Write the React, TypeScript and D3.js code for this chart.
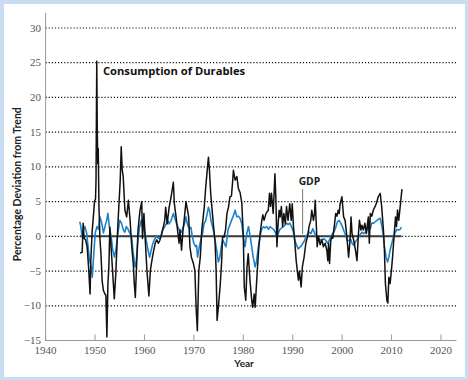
import React from "react";
import * as d3 from "d3";

// [year, percentage deviation from trend]
const durables: [number, number][] = [
  [1947.0, -2.4], [1947.4, -2.3], [1947.6, 1.9], [1947.8, -0.3], [1948.1, -0.5], [1948.4, -1.5],
  [1948.7, -4.5], [1949.0, -8.3], [1949.15, -3.5], [1949.4, 0.5], [1949.6, 2.3], [1949.9, 5.0],
  [1950.1, 5.4], [1950.2, 8], [1950.35, 25.2], [1950.45, 15.8], [1950.55, 10.5], [1950.65, 12.7],
  [1950.8, 4.2], [1951.0, -0.5], [1951.2, -2.5], [1951.45, -6.5], [1951.7, -7.8], [1952.0, -8.3],
  [1952.2, -8.5], [1952.4, -14.5], [1952.6, -7], [1952.8, -4.4], [1953.0, 1.3], [1953.2, -1],
  [1953.5, -4.4], [1953.9, -9.0], [1954.2, -5.4], [1954.6, 1.3], [1955.1, 8.1], [1955.3, 12.9],
  [1955.5, 9.6], [1955.7, 8.6], [1956.05, 3.75], [1956.4, 2.8], [1956.75, 5.2], [1957.1, 2.3],
  [1957.4, -1.2], [1957.75, -4], [1957.9, -6.3], [1958.15, -8.8], [1958.4, -4.4], [1958.7, 0.9],
  [1959.1, 3.75], [1959.45, 5.0], [1959.6, -0.3], [1959.9, 3.3], [1960.2, -1], [1960.5, -4.9],
  [1960.9, -8.6], [1961.2, -4.9], [1961.5, -3.5], [1961.8, -2.3], [1962.2, -0.9], [1962.5, -0.5],
  [1962.8, -1], [1963.1, -0.6], [1963.4, 0.2], [1963.8, 1.3], [1964.1, 2.3], [1964.3, 4.2],
  [1964.6, 1.8], [1965.0, 4.2], [1965.4, 5.7], [1965.85, 7.8], [1966.05, 4.7], [1966.4, 2.8],
  [1966.7, 0.9], [1967.0, -1], [1967.2, 0.9], [1967.5, -2], [1967.8, 0.9], [1968.1, 2.8],
  [1968.4, 5.0], [1968.7, 3.8], [1968.95, 2.8], [1969.2, -1.5], [1969.5, -3], [1969.9, -3.9],
  [1970.2, -4.9], [1970.45, -10.2], [1970.7, -13.6], [1971.0, -4.9], [1971.3, -3], [1971.6, 0.9],
  [1972.1, 4.2], [1972.4, 7.1], [1972.7, 9.5], [1972.95, 11.4], [1973.15, 9.5], [1973.4, 6.2],
  [1973.75, 3.3], [1974.0, 1.3], [1974.3, -1], [1974.5, -4.9], [1974.7, -12.1], [1974.95, -10.2],
  [1975.3, -7.3], [1975.6, -3.9], [1975.8, -0.1], [1976.1, -0.1], [1976.4, 0.9], [1976.7, 3.3],
  [1977.0, 4.2], [1977.3, 5.7], [1977.6, 5.8], [1977.8, 7.5], [1978.0, 9.5], [1978.35, 8.1],
  [1978.7, 8.6], [1979.0, 6.9], [1979.35, 6.3], [1979.7, 4.8], [1980.0, 0], [1980.2, -7.3],
  [1980.5, -9.2], [1980.75, -4.4], [1981.0, -2.5], [1981.35, -6.3], [1981.7, -9.2], [1981.9, -10.2],
  [1982.2, -8.3], [1982.4, -10.2], [1982.75, -5.9], [1983.1, -2], [1983.4, 0.4], [1983.75, 2.3],
  [1983.95, 3.1], [1984.2, 2.3], [1984.4, 2.8], [1984.6, 3.3], [1985.05, 3.75], [1985.3, 6.2],
  [1985.5, 4.3], [1985.7, 6.2], [1986.05, 3.3], [1986.4, 9.0], [1986.6, 5.2], [1986.8, -1.5],
  [1987.0, 1.4], [1987.25, 3.75], [1987.45, 2.8], [1987.7, 4.3], [1987.95, 1.4], [1988.2, 3.3],
  [1988.5, 1.8], [1988.75, 4.3], [1989.05, 2.3], [1989.4, 4.7], [1989.7, 2.3], [1989.9, 4.7],
  [1990.15, 1.4], [1990.4, -0.6], [1990.7, -3.5], [1991.0, -5.4], [1991.15, -6.3], [1991.35, -5],
  [1991.7, -7.3], [1991.95, -4.4], [1992.3, -3], [1992.65, -1], [1993.0, 0], [1993.3, 1.4],
  [1993.65, 2.3], [1993.85, 3.75], [1994.2, 2.3], [1994.4, 3.3], [1994.55, 5.2], [1994.75, 2.0],
  [1994.95, -1.5], [1995.2, 0], [1995.55, -1.2], [1995.9, -0.5], [1996.2, -1.5], [1996.55, -1],
  [1996.9, -2], [1997.1, -3.5], [1997.25, -1], [1997.45, -3.9], [1997.7, -0.6], [1997.9, 0],
  [1998.1, -0.3], [1998.4, 1.4], [1998.7, 3.3], [1998.95, 2.9], [1999.2, 3.75], [1999.4, 3.3],
  [1999.6, 4.7], [1999.95, 5.7], [2000.3, 2.8], [2000.6, 2.3], [2000.95, 0], [2001.3, -3],
  [2001.6, -0.5], [2001.8, 2.8], [2002.0, 0.4], [2002.35, -0.6], [2002.7, -2], [2003.0, -3.5],
  [2003.3, 0.4], [2003.5, 2.3], [2003.8, 0.9], [2004.0, 1.6], [2004.3, 0.9], [2004.6, 1.9],
  [2004.9, 0.4], [2005.3, 2.8], [2005.5, -1], [2005.7, 3.3], [2006.0, 2.9], [2006.3, 3.75],
  [2006.6, 4.2], [2006.95, 4.8], [2007.3, 5.7], [2007.7, 6.2], [2008.0, 4.3], [2008.35, 0.9],
  [2008.55, -1.9], [2008.75, -6.8], [2009.05, -9.2], [2009.25, -9.6], [2009.45, -5.9], [2009.7, -6.8],
  [2009.95, -5], [2010.2, -3], [2010.5, 0], [2010.8, 2.8], [2011.0, 1.4], [2011.2, 3.8],
  [2011.45, 2.3], [2011.7, 4], [2012.1, 6.8],
];

const gdp: [number, number][] = [
  [1946.9, 2.1], [1947.15, 1.4], [1947.35, 0], [1947.6, 0.8], [1947.95, 1.4], [1948.3, 0.5],
  [1948.6, -1.5], [1948.9, -3.5], [1949.25, -4.4], [1949.45, -5.9], [1949.75, -2.5], [1950.05, 0.5],
  [1950.4, 1.4], [1950.7, 1.0], [1951.0, 2.8], [1951.35, 1.9], [1951.7, 0.5], [1952.0, 1.4],
  [1952.35, 2.3], [1952.6, 3.3], [1952.9, 1.4], [1953.25, 0], [1953.6, -2], [1953.95, -3],
  [1954.3, -1.5], [1954.65, 0.5], [1955.0, 2.3], [1955.35, 1.9], [1955.7, 1.0], [1956.0, 0.6],
  [1956.35, 1.4], [1956.7, 1.0], [1957.0, 0.5], [1957.4, 0], [1957.7, -2.3], [1958.1, -4.4],
  [1958.35, -3.5], [1958.7, -0.5], [1959.0, 1.3], [1959.35, 2.3], [1959.7, 0.9], [1960.0, 0.9],
  [1960.35, -0.5], [1960.7, -1.9], [1961.05, -3], [1961.4, -1.9], [1961.7, -1], [1962.0, -0.5],
  [1962.4, 0], [1962.7, -0.2], [1963.0, -0.3], [1963.4, 0], [1963.7, 0.9], [1964.0, 1.3],
  [1964.4, 1.8], [1964.7, 2.3], [1965.0, 1.8], [1965.4, 2.3], [1965.85, 3.3], [1966.2, 2.5],
  [1966.5, 1.8], [1966.8, 1.3], [1967.1, 0.9], [1967.5, 0.6], [1967.8, 1.2], [1968.1, 1.8],
  [1968.4, 2.8], [1968.75, 1.6], [1969.1, 1.1], [1969.4, 1.3], [1969.7, -0.1], [1970.0, -1],
  [1970.35, -1.5], [1970.55, -1.3], [1970.75, -3], [1971.1, -1.5], [1971.4, -0.5], [1971.75, 0.4],
  [1972.05, 1.8], [1972.4, 2.3], [1972.7, 3.3], [1972.95, 4.2], [1973.2, 3.6], [1973.45, 2.3],
  [1973.8, 1.3], [1974.1, 0.4], [1974.4, -1], [1974.7, -2.4], [1974.95, -3.7], [1975.25, -3],
  [1975.55, -1.5], [1975.85, -0.5], [1976.15, -1], [1976.5, -1.5], [1976.9, 0.9], [1977.4, 1.9],
  [1977.9, 2.8], [1978.35, 3.75], [1978.7, 2.8], [1979.0, 2.9], [1979.35, 2.6], [1979.7, 1.8],
  [1980.0, -0.1], [1980.35, -1.5], [1980.7, 0.4], [1981.05, 1.4], [1981.4, 0], [1981.7, -1.5],
  [1982.0, -3], [1982.4, -4.4], [1982.7, -3.5], [1983.05, -1.5], [1983.4, 0], [1983.7, 1],
  [1984.1, 1.4], [1984.4, 1.2], [1984.75, 1.4], [1985.1, 1], [1985.4, 1.4], [1985.75, 1.2],
  [1986.1, 1], [1986.4, 0.7], [1986.75, 0], [1987.1, 0.5], [1987.4, 1], [1987.75, 1.2],
  [1988.1, 1.4], [1988.4, 1.6], [1988.75, 1.9], [1989.1, 1.7], [1989.4, 1.9], [1989.75, 1.4],
  [1990.1, 0.7], [1990.4, -0.5], [1990.75, -1.2], [1991.1, -1.8], [1991.4, -1.6], [1991.7, -1.4],
  [1992.05, -1], [1992.4, -0.6], [1992.7, 0], [1993.05, 0.3], [1993.35, 0.6], [1993.7, 0.4],
  [1994.05, 1.1], [1994.35, 0.6], [1994.7, 0], [1995.05, -0.6], [1995.4, -0.4], [1995.7, -0.6],
  [1996.05, -0.4], [1996.4, -0.4], [1996.7, -0.6], [1997.05, -1], [1997.4, -0.6], [1997.7, 0],
  [1998.05, 0.4], [1998.4, 0.7], [1998.7, 1.3], [1999.05, 2.1], [1999.4, 2.3], [1999.7, 1.9],
  [2000.05, 1.4], [2000.4, 0.7], [2000.7, 0.2], [2001.05, -0.6], [2001.4, -0.6], [2001.7, -0.4],
  [2002.0, -1], [2002.35, -1.3], [2002.7, -0.8], [2003.0, -0.5], [2003.35, 0], [2003.7, 0.3],
  [2004.0, 0.6], [2004.35, 0.4], [2004.7, 0.6], [2005.0, 0.9], [2005.35, 1.4], [2005.7, 1.1],
  [2006.0, 1.9], [2006.35, 1.9], [2006.7, 2.1], [2007.05, 2.3], [2007.4, 2.5], [2007.7, 2.6],
  [2008.05, 1.4], [2008.35, 0], [2008.55, -1.5], [2008.9, -3], [2009.2, -3.7], [2009.45, -3],
  [2009.7, -2], [2010.05, -1], [2010.4, 0], [2010.7, 0.5], [2011.05, 1], [2011.35, 0.9],
  [2011.7, 1], [2012.0, 1.3],
];

const yTicks = [-15, -10, -5, 0, 5, 10, 15, 20, 25, 30];
const gridValues = [-10, -5, 0, 5, 10, 15, 20, 25, 30];
const xTicks = [1940, 1950, 1960, 1970, 1980, 1990, 2000, 2010, 2020];
const zeroLineSpan = [1947, 2012];
const gdpLabelYear = 1992;

export default function App() {
  const W = 468, H = 380;
  const x = d3.scaleLinear().domain([1940, 2020]).range([45.6, 441]);
  const y = d3.scaleLinear().domain([-15, 30]).range([340.5, 28]);
  const xEnd = 456.5;
  const line = d3.line<[number, number]>().x(d => x(d[0])).y(d => y(d[1]));
  const serif = "'Liberation Serif', 'DejaVu Serif', serif";
  const sans = "Lato, 'Open Sans', sans-serif";
  const labelSans = "'Open Sans', Lato, sans-serif";

  return (
    <svg width={W} height={H} style={{ position: "absolute", left: 0, top: 0 }}>
      <rect x={0} y={0} width={W} height={H} fill="#c9dcf2" />
      <rect x={4} y={4} width={461} height={373} fill="#ffffff" />
      {gridValues.map(v => (
        <line key={v} x1={x(1940)} x2={xEnd} y1={y(v)} y2={y(v)} stroke="#111" strokeWidth={1.2} strokeDasharray="1.2,1.9" />
      ))}
      <line x1={x(zeroLineSpan[0])} x2={x(zeroLineSpan[1])} y1={y(0)} y2={y(0)} stroke="#3a3a3a" strokeWidth={2} />
      <path d={line(gdp) || ""} fill="none" stroke="#1b82cc" strokeWidth={1.6} strokeLinejoin="round" />
      <path d={line(durables) || ""} fill="none" stroke="#111" strokeWidth={1.5} strokeLinejoin="round" />
      {/* axes */}
      <line x1={x(1940)} x2={x(1940)} y1={13} y2={y(-15)} stroke="#999" strokeWidth={1} />
      <line x1={x(1940)} x2={xEnd} y1={y(-15)} y2={y(-15)} stroke="#999" strokeWidth={1} />
      {xTicks.map(t => (
        <g key={t}>
          <line x1={x(t)} x2={x(t)} y1={y(-15)} y2={y(-15) - 6} stroke="#999" strokeWidth={1} />
          <text x={x(t)} y={354} textAnchor="middle" fontFamily={serif} fontSize={11} fill="#555">{t}</text>
        </g>
      ))}
      {yTicks.map(t => (
        <text key={t} x={41} y={y(t) + 3.5} textAnchor="end" fontFamily={serif} fontSize={11} fill="#555">
          {t < 0 ? "\u2212" + Math.abs(t) : t}
        </text>
      ))}
      <text x={x(1940) + (xEnd - x(1940)) / 2 - 7} y={367} textAnchor="middle" fontFamily={sans} fontWeight="bold" fontSize={10} fill="#222">Year</text>
      <text transform={`translate(21,${y(7.5)}) rotate(-90)`} textAnchor="middle" fontFamily={sans} fontWeight="bold" fontSize={10.5} fill="#222">
        Percentage Deviation from Trend
      </text>
      <text x={x(1951.6)} y={y(23.2)} fontFamily={labelSans} fontWeight="bold" fontSize={11.2} fill="#111">Consumption of Durables</text>
      <text x={x(1991.2)} y={y(7.4)} fontFamily={labelSans} fontWeight="bold" fontSize={10.3} fill="#222">GDP</text>
      <line x1={x(gdpLabelYear)} x2={x(gdpLabelYear)} y1={y(6.8)} y2={y(0.3)} stroke="#555" strokeWidth={0.8} />
    </svg>
  );
}
